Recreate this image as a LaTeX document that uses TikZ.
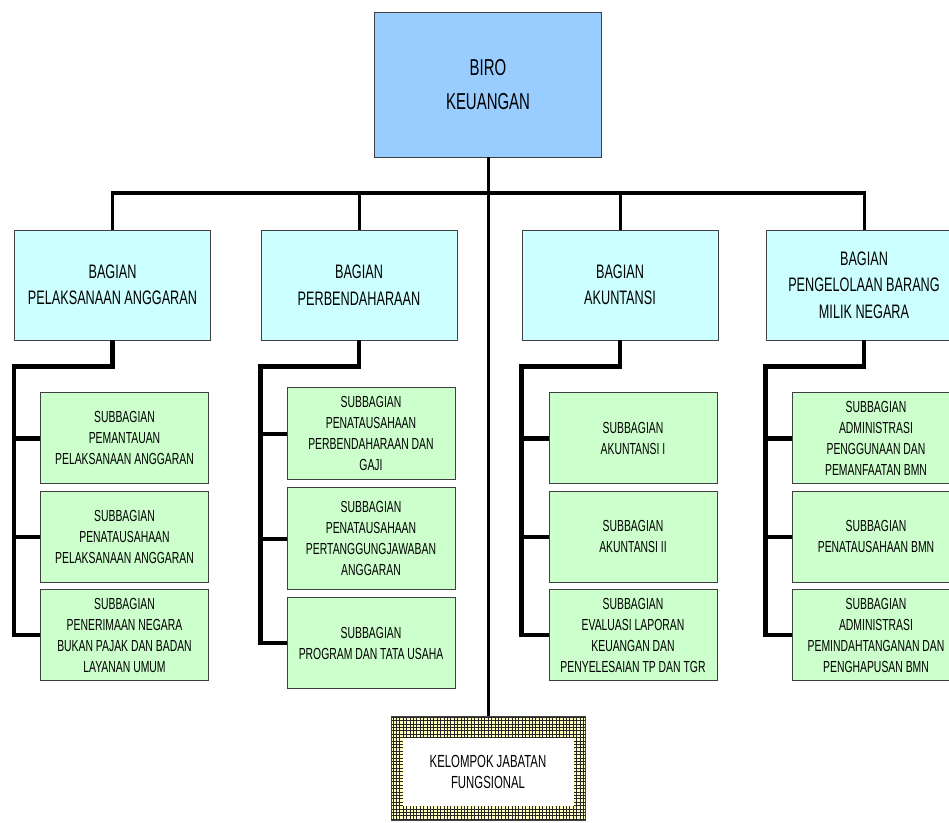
\documentclass[tikz,border=0pt]{standalone}
\usepackage{fontspec}
\setmainfont{Liberation Sans}[FakeStretch=0.65]
\usetikzlibrary{positioning}
\definecolor{biroblue}{HTML}{99CCFF}
\definecolor{bagcyan}{HTML}{CCFFFF}
\definecolor{subgreen}{HTML}{CCFFCC}
\definecolor{jfcream}{HTML}{FFFFC0}

\begin{document}
\begin{tikzpicture}[x=1pt, y=-1pt,
  node distance=6.5pt,
  birobox/.style={rectangle, draw=black!75, line width=0.9pt, fill=biroblue,
                  align=center, minimum width=227pt, minimum height=145pt,
                  font=\fontsize{23}{34}\selectfont},
  bagbox/.style={rectangle, draw=black!75, line width=0.9pt, fill=bagcyan,
                 align=center, inner sep=2pt, minimum width=196pt,
                 minimum height=110pt, font=\fontsize{19.5}{26.5}\selectfont},
  subbox/.style={rectangle, draw=black!75, line width=0.9pt, fill=subgreen,
                 align=center, inner sep=2pt, minimum width=168pt,
                 minimum height=91pt, font=\fontsize{16}{21}\selectfont},
  jfbox/.style={rectangle, draw=black!75, line width=0.8pt, fill=jfcream,
                minimum width=194pt, minimum height=104pt,
                path picture={\draw[black!85, line width=0.55pt, step=3.4pt]
                  (path picture bounding box.south west) grid
                  (path picture bounding box.north east);}},
  jftext/.style={rectangle, fill=white, align=center, minimum width=171pt,
                 minimum height=68pt, font=\fontsize{17.5}{21.5}\selectfont},
  thinln/.style={line width=3pt},
  busln/.style={line width=4.5pt},
  treeln/.style={line width=4.5pt, line join=miter}]
\clip (0,0) rectangle (949,822);
\fill[white] (0,0) rectangle (949,822);
% top and the four bagian
\node[birobox] (biro) at (488,84.5) {BIRO\\KEUANGAN};
\node[bagbox] (bpa) at (112.5,285) {BAGIAN\\PELAKSANAAN ANGGARAN};
\node[bagbox] (bpb) at (359,285) {BAGIAN\\PERBENDAHARAAN};
\node[bagbox] (bak) at (620,285) {BAGIAN\\AKUNTANSI};
\node[bagbox] (bbmn) at (864,285) {BAGIAN\\PENGELOLAAN BARANG\\MILIK NEGARA};
% subbagian
\node[subbox, below=52pt of bpa, xshift=12pt] (pa1)
  {SUBBAGIAN\\PEMANTAUAN\\PELAKSANAAN ANGGARAN};
\node[subbox, below=of pa1] (pa2)
  {SUBBAGIAN\\PENATAUSAHAAN\\PELAKSANAAN ANGGARAN};
\node[subbox, below=of pa2] (pa3)
  {SUBBAGIAN\\PENERIMAAN NEGARA\\BUKAN PAJAK DAN BADAN\\LAYANAN UMUM};
\node[subbox, below=47pt of bpb, xshift=12pt, minimum height=92pt] (pb1)
  {SUBBAGIAN\\PENATAUSAHAAN\\PERBENDAHARAAN DAN\\GAJI};
\node[subbox, below=7pt of pb1, minimum height=102pt] (pb2)
  {SUBBAGIAN\\PENATAUSAHAAN\\PERTANGGUNGJAWABAN\\ANGGARAN};
\node[subbox, below=7pt of pb2] (pb3)
  {SUBBAGIAN\\PROGRAM DAN TATA USAHA};
\node[subbox, below=52pt of bak, xshift=13pt] (ak1) {SUBBAGIAN\\AKUNTANSI I};
\node[subbox, below=of ak1] (ak2) {SUBBAGIAN\\AKUNTANSI II};
\node[subbox, below=of ak2] (ak3)
  {SUBBAGIAN\\EVALUASI LAPORAN\\KEUANGAN DAN\\PENYELESAIAN TP DAN TGR};
\node[subbox, below=52pt of bbmn, xshift=12pt] (bmn1)
  {SUBBAGIAN\\ADMINISTRASI\\PENGGUNAAN DAN\\PEMANFAATAN BMN};
\node[subbox, below=of bmn1] (bmn2) {SUBBAGIAN\\PENATAUSAHAAN BMN};
\node[subbox, below=of bmn2] (bmn3)
  {SUBBAGIAN\\ADMINISTRASI\\PEMINDAHTANGANAN DAN\\PENGHAPUSAN BMN};
% jabatan fungsional
\node[jfbox] (kjf) at (488,768) {};
\node[jftext] (kjftext) at (488,772) {KELOMPOK JABATAN\\FUNGSIONAL};
% lines
\coordinate (bus) at (488,193);
\draw[thinln] (biro) -- (kjf);
\draw[busln] ([xshift=-1.5pt]bpa.north |- bus) -- ([xshift=1.5pt]bbmn.north |- bus);
\draw[thinln] (bpa.north |- bus) -- (bpa.north);
\draw[thinln] (bpb.north |- bus) -- (bpb.north);
\draw[thinln] (bak.north |- bus) -- (bak.north);
\draw[thinln] (bbmn.north |- bus) -- (bbmn.north);
\draw[treeln] (bpa.south) -- ++(0,26) -| (bpa.west |- pa3.west) -- (pa3.west);
\draw[treeln] (bpa.west |- pa1.west) -- (pa1.west);
\draw[treeln] (bpa.west |- pa2.west) -- (pa2.west);
\draw[treeln] (bpb.south) -- ++(0,26) -| (bpb.west |- pb3.west) -- (pb3.west);
\draw[treeln] (bpb.west |- pb1.west) -- (pb1.west);
\draw[treeln] (bpb.west |- pb2.west) -- (pb2.west);
\draw[treeln] (bak.south) -- ++(0,26) -| (bak.west |- ak3.west) -- (ak3.west);
\draw[treeln] (bak.west |- ak1.west) -- (ak1.west);
\draw[treeln] (bak.west |- ak2.west) -- (ak2.west);
\draw[treeln] (bbmn.south) -- ++(0,26) -| (bbmn.west |- bmn3.west) -- (bmn3.west);
\draw[treeln] (bbmn.west |- bmn1.west) -- (bmn1.west);
\draw[treeln] (bbmn.west |- bmn2.west) -- (bmn2.west);
\end{tikzpicture}
\end{document}
